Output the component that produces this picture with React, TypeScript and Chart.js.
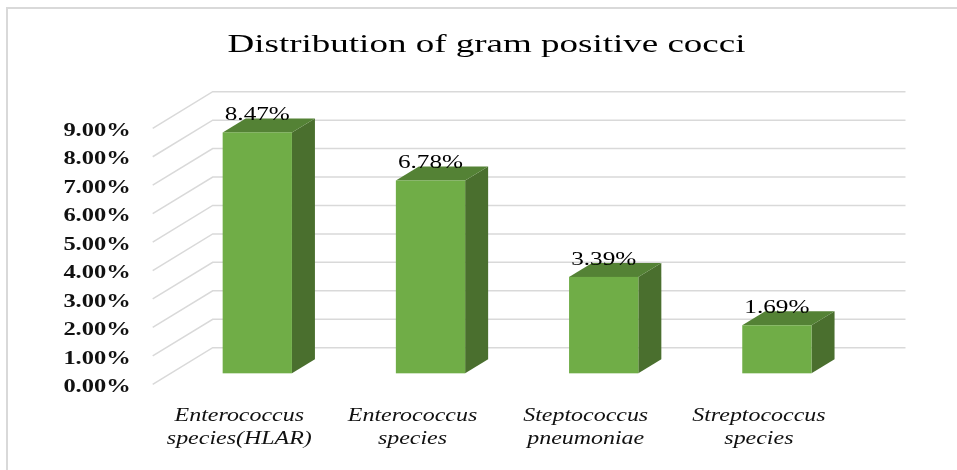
import { useEffect, useRef } from 'react';
import { Chart, registerables } from 'chart.js';

Chart.register(...registerables);

const categories: string[][] = [
  ['Enterococcus', 'species(HLAR)'],
  ['Enterococcus', 'species'],
  ['Steptococcus', 'pneumoniae'],
  ['Streptococcus', 'species'],
];
const values: number[] = [8.47, 6.78, 3.39, 1.69];
const yMin = 0;
const yMax = 9;
const yStep = 1;
const titleText = 'Distribution of gram positive cocci';

const SERIF = '"Liberation Serif", "Times New Roman", serif';
const DX = 60;
const DY = -36.6;
const BAR_FRONT = 0.3;
const BAR_DEPTH_X = 23;
const BAR_DEPTH_Y = -14;
const FRONT = '#70ad47';
const TOP = '#548235';
const SIDE = '#4a6f2e';
const GRID = '#d9d9d9';

// Draw text horizontally stretched around its anchor, like the reference picture.
function stretchedFill(ctx: CanvasRenderingContext2D, sx: number, fn: () => void) {
  const c: any = ctx;
  const orig = c.fillText;
  c.fillText = function (text: string, x: number, y: number, maxWidth?: number) {
    orig.call(ctx, '', 0, 0);
    ctx.save();
    ctx.translate(x, y);
    ctx.scale(sx, 1);
    if (maxWidth === undefined) orig.call(ctx, text, 0, 0);
    else orig.call(ctx, text, 0, 0, maxWidth / sx);
    ctx.restore();
  };
  try {
    fn();
  } finally {
    c.fillText = orig;
  }
}

function patch(obj: any, method: string, sx: number) {
  if (!obj || obj['__patched_' + method]) return;
  const orig = obj[method];
  obj[method] = function (...args: any[]) {
    stretchedFill(this.ctx, sx, () => orig.apply(this, args));
  };
  obj['__patched_' + method] = true;
}

const threeD = {
  id: 'threeD',
  beforeDraw(chart: any) {
    patch(chart.scales.x, 'drawLabels', 1.33);
    patch(chart.scales.y, 'drawLabels', 1.36);
    patch(chart.titleBlock, 'draw', 1.48);
    const { ctx, width, height } = chart;
    ctx.save();
    ctx.fillStyle = '#ffffff';
    ctx.fillRect(0, 0, width, height);
    ctx.fillStyle = GRID;
    ctx.fillRect(6, 7, 2, height - 7);
    ctx.fillRect(6, 7, width - 6, 2);
    const y = chart.scales.y;
    const { left, right } = chart.chartArea;
    ctx.strokeStyle = GRID;
    ctx.lineWidth = 1.5;
    y.ticks.forEach((t: any) => {
      const py = y.getPixelForValue(t.value);
      ctx.beginPath();
      ctx.moveTo(left, py);
      ctx.lineTo(left + DX, py + DY);
      ctx.lineTo(right + DX, py + DY);
      ctx.stroke();
    });
    ctx.restore();
  },
  afterDatasetsDraw(chart: any) {
    const { ctx } = chart;
    const meta = chart.getDatasetMeta(0);
    ctx.save();
    meta.data.forEach((bar: any, i: number) => {
      const { x, y, base, width } = bar.getProps(['x', 'y', 'base', 'width'], true);
      const fx = BAR_FRONT * DX;
      const fy = BAR_FRONT * DY;
      const l = x - width / 2 + fx;
      const r = x + width / 2 + fx;
      const t = y + fy;
      const b = base + fy;
      const dx = BAR_DEPTH_X;
      const dy = BAR_DEPTH_Y;
      // side face
      ctx.fillStyle = SIDE;
      ctx.beginPath();
      ctx.moveTo(r, t);
      ctx.lineTo(r + dx, t + dy);
      ctx.lineTo(r + dx, b + dy);
      ctx.lineTo(r, b);
      ctx.closePath();
      ctx.fill();
      // top face
      ctx.fillStyle = TOP;
      ctx.beginPath();
      ctx.moveTo(l, t);
      ctx.lineTo(l + dx, t + dy);
      ctx.lineTo(r + dx, t + dy);
      ctx.lineTo(r, t);
      ctx.closePath();
      ctx.fill();
      // front face
      ctx.fillStyle = FRONT;
      ctx.fillRect(l, t, r - l, b - t);
      // value label
      ctx.save();
      ctx.font = `18px ${SERIF}`;
      ctx.fillStyle = '#000';
      ctx.textAlign = 'center';
      ctx.textBaseline = 'alphabetic';
      const label = values[i].toFixed(2) + '%';
      stretchedFill(ctx, 1.4, () => ctx.fillText(label, (l + r) / 2, t + dy + 2));
      ctx.restore();
    });
    ctx.restore();
  },
};

export default function App() {
  const ref = useRef<HTMLCanvasElement>(null);
  useEffect(() => {
    if (!ref.current) return;
    const chart = new Chart(ref.current, {
      type: 'bar',
      data: {
        labels: categories,
        datasets: [
          {
            data: values,
            backgroundColor: 'rgba(0,0,0,0)',
            borderWidth: 0,
            barPercentage: 0.4,
            categoryPercentage: 1,
          },
        ],
      },
      options: {
        animation: false,
        responsive: true,
        maintainAspectRatio: false,
        layout: { padding: { left: 16, right: 0, top: 0, bottom: 0 } },
        plugins: {
          legend: { display: false },
          tooltip: { enabled: false },
          title: {
            display: true,
            text: titleText,
            color: '#000',
            font: { family: SERIF, size: 25, weight: 'normal', lineHeight: 1.2 },
            padding: { top: 30, bottom: 68.3 },
          },
        },
        scales: {
          x: {
            grid: { display: false, drawTicks: false },
            border: { display: false },
            ticks: {
              padding: 20,
              color: '#111',
              maxRotation: 0,
              autoSkip: false,
              font: { family: SERIF, size: 18, style: 'italic', lineHeight: 1.28 },
            },
            afterFit: (s: any) => {
              s.height = 85.7;
            },
          },
          y: {
            min: yMin,
            max: yMax,
            grid: { display: false, drawTicks: false },
            border: { display: false },
            ticks: {
              stepSize: yStep,
              padding: 22,
              labelOffset: 3,
              color: '#111',
              font: { family: SERIF, size: 18, weight: 'bold' },
              callback: (v: any) => Number(v).toFixed(2) + '%',
            },
            afterFit: (s: any) => {
              s.width = 136.7;
            },
          },
          yR: {
            type: 'linear',
            position: 'right',
            display: true,
            grid: { display: false, drawTicks: false },
            border: { display: false },
            ticks: { display: false },
            afterFit: (s: any) => {
              s.width = 111.5;
            },
          },
        },
      },
      plugins: [threeD],
    } as any);
    return () => chart.destroy();
  }, []);
  return (
    <div style={{ position: 'fixed', left: 0, top: 0, width: 957, height: 470 }}>
      <canvas ref={ref} />
    </div>
  );
}
